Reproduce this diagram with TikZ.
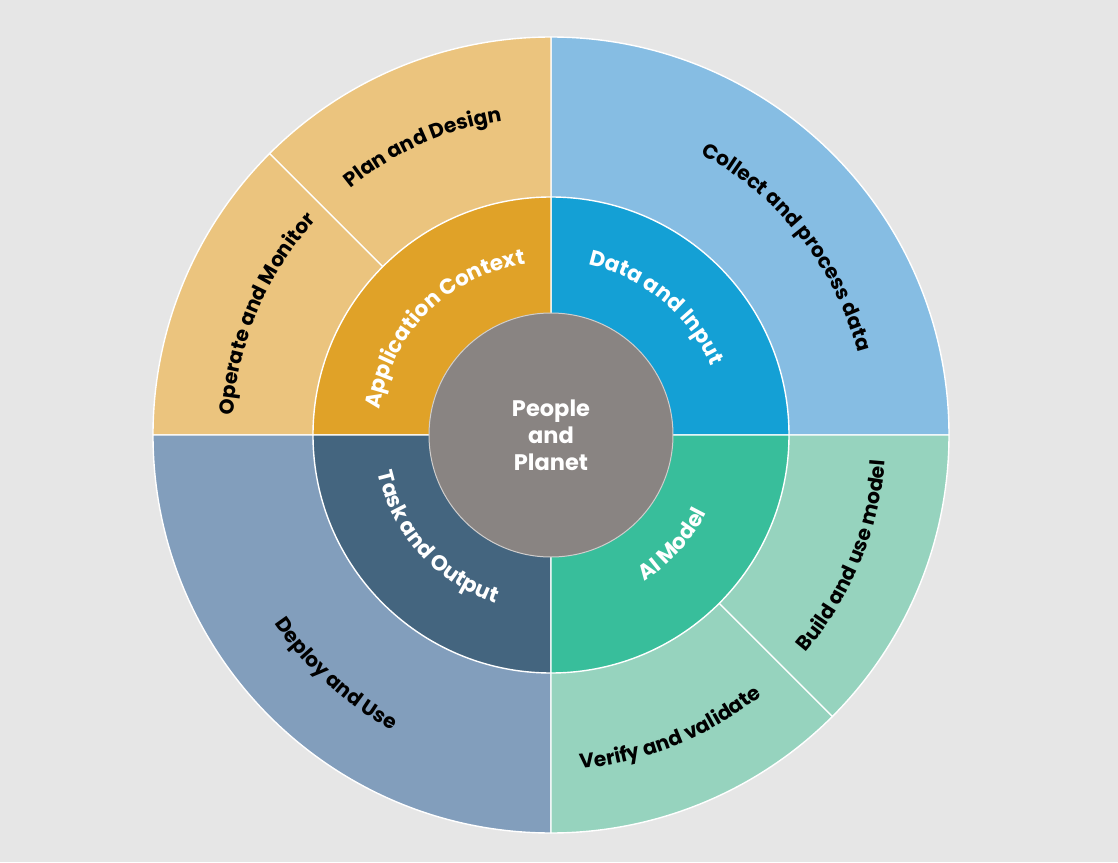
\documentclass[tikz,border=0pt]{standalone}
\usepackage{fontspec}
\setmainfont{Poppins}
\usetikzlibrary{decorations.text}
\definecolor{paper}{HTML}{E6E6E6}
\definecolor{planlight}{HTML}{EBC47E}
\definecolor{plandark}{HTML}{E0A228}
\definecolor{datalight}{HTML}{86BDE3}
\definecolor{datadark}{HTML}{14A0D5}
\definecolor{modellight}{HTML}{96D3BE}
\definecolor{modeldark}{HTML}{38BE9B}
\definecolor{uselight}{HTML}{829EBC}
\definecolor{usedark}{HTML}{44657F}
\definecolor{core}{HTML}{898482}
\newcommand\outerlbl{\fontsize{20.3}{20}\selectfont\bfseries}
\newcommand\innerlbl{\fontsize{21.5}{21}\selectfont\bfseries}
\begin{document}
\begin{tikzpicture}[x=1pt,y=1pt,
    sector/.style={draw=white,line width=1.4pt},
    arctext/.style n args={3}{decorate,decoration={text along path,text align=center,text color=#1,text={|#2|#3}}}]
  \fill[paper] (-551,-427) rectangle (567,435);

  \foreach \a/\b/\c in {0/90/datalight,90/135/planlight,135/180/planlight,180/270/uselight,270/315/modellight,315/360/modellight}
    \filldraw[fill=\c,sector] (0,0) -- (\a:398) arc[start angle=\a,end angle=\b,radius=398] -- cycle;
  \foreach \a/\b/\c in {0/90/datadark,90/180/plandark,180/270/usedark,270/360/modeldark}
    \filldraw[fill=\c,sector] (0,0) -- (\a:238) arc[start angle=\a,end angle=\b,radius=238] -- cycle;
  \filldraw[fill=core,draw=white!60!core,line width=1pt] (0,0) circle (122);
  \node[text=white,align=center,font=\fontsize{22.5}{27}\selectfont\bfseries] (people) at (0,0) {People\\and\\Planet};

  \path[arctext={black}{\outerlbl}{Collect and process data}] (88.5:318) arc[start angle=88.5,end angle=-11.5,radius=318];
  \path[arctext={black}{\outerlbl}{Plan and Design}] (164:318) arc[start angle=164,end angle=64,radius=318];
  \path[arctext={black}{\outerlbl}{Operate and Monitor}] (207:318) arc[start angle=207,end angle=107,radius=318];
  \path[arctext={black}{\outerlbl}{Deploy and Use}] (178:335) arc[start angle=178,end angle=278,radius=335];
  \path[arctext={black}{\outerlbl}{Verify and validate}] (242:335) arc[start angle=242,end angle=342,radius=335];
  \path[arctext={black}{\outerlbl}{Build and use model}] (287.5:335) arc[start angle=287.5,end angle=387.5,radius=335];

  \path[arctext={white}{\innerlbl}{Application Context}] (195:173) arc[start angle=195,end angle=75,radius=173];
  \path[arctext={white}{\innerlbl}{Data and Input}] (110.5:174) arc[start angle=110.5,end angle=-9.5,radius=174];
  \path[arctext={white}{\innerlbl}{Task and Output}] (162:177) arc[start angle=162,end angle=282,radius=177];
  \path[arctext={white}{\innerlbl}{AI Model}] (258:174) arc[start angle=258,end angle=378,radius=174];
\end{tikzpicture}
\end{document}
